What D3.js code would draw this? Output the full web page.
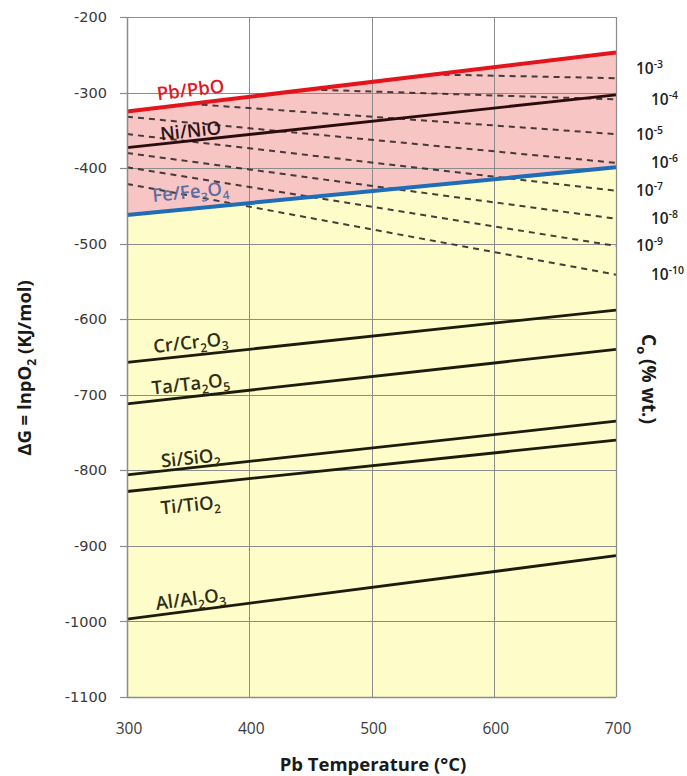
<!DOCTYPE html>
<html>
<head>
<meta charset="utf-8">
<script src="https://cdn.jsdelivr.net/npm/d3@7"></script>
<style>
  html, body { margin: 0; padding: 0; background: #ffffff; }
  svg { display: block; }
</style>
</head>
<body>
<svg id="chart" width="687" height="776"></svg>
<script>
// ---------- data ----------
const xTicks = [300, 400, 500, 600, 700];
const yTicks = [-200, -300, -400, -500, -600, -700, -800, -900, -1000, -1100];

// metal / oxide equilibrium lines (ΔG at 300 °C and 700 °C)
const couples = ["Pb/PbO", "Ni/NiO", "Fe/Fe3O4", "Cr/Cr2O3", "Ta/Ta2O5", "Si/SiO2", "Ti/TiO2", "Al/Al2O3"];
const dG300 = [-325, -373, -462, -657, -712, -806, -828, -997];
const dG700 = [-247, -303, -399, -588, -640, -735, -760, -913];

// iso-concentration lines of dissolved oxygen (C_o, % wt.)
const coExp    = [-3, -4, -5, -6, -7, -8, -9, -10];
const coStartT = [550, 450, 352, 300, 300, 300, 300, 300];
const coStartG = [-276, -296, -315, -332, -355, -380, -399, -421];
const coEndG   = [-281, -309, -355, -393, -430, -467, -503, -541];

// ---------- styles / layout ----------
const coupleColor = ["#e3151c", "#2a0c0c", "#1f6db6", "#1c1c0c", "#1c1c0c", "#1c1c0c", "#1c1c0c", "#1c1c0c"];
const coupleWidth = [4, 2.8, 4, 2.8, 2.8, 2.8, 2.8, 2.8];
const labelColor  = ["#e0191f", "#2a1414", "#5b6ea4", "#2e2e14", "#2e2e14", "#2e2e14", "#2e2e14", "#2e2e14"];
const labelOffset = [-14, -10, -17, -13, -13, -10, 20, -12];
const labelAtT = 352;

const W = 687, H = 776;
const margin = { left: 127, right: 71, top: 17, bottom: 79 };
const x = d3.scaleLinear().domain([300, 700]).range([margin.left, W - margin.right]);
const y = d3.scaleLinear().domain([-200, -1100]).range([margin.top, H - margin.bottom]);

const svg = d3.select("#chart");
const gridColor = "#8c8c8c";

// ---------- fills ----------
const tt = [300, 700];
const lerp = (a, b, t) => a + (b - a) * (t - 300) / 400;
const red = t => lerp(dG300[0], dG700[0], t);
const blue = t => lerp(dG300[2], dG700[2], t);

svg.append("path")
  .datum(tt)
  .attr("fill", "#fefcc9")
  .attr("d", d3.area().x(d => x(d)).y0(() => y(-1100)).y1(d => y(blue(d))));

svg.append("path")
  .datum(tt)
  .attr("fill", "#f8c5c5")
  .attr("d", d3.area().x(d => x(d)).y0(d => y(blue(d))).y1(d => y(red(d))));

// ---------- grid ----------
const grid = svg.append("g").attr("stroke", gridColor).attr("stroke-width", 1).attr("shape-rendering", "crispEdges");
grid.selectAll("line.h").data(yTicks).join("line")
  .attr("x1", x(300)).attr("x2", x(700))
  .attr("y1", d => Math.round(y(d)) + 0.5).attr("y2", d => Math.round(y(d)) + 0.5);
grid.selectAll("line.v").data(xTicks).join("line")
  .attr("y1", y(-200)).attr("y2", y(-1100))
  .attr("x1", d => Math.round(x(d)) + 0.5).attr("x2", d => Math.round(x(d)) + 0.5);

// ---------- dashed iso-concentration lines ----------
svg.append("g").selectAll("line").data(coExp).join("line")
  .attr("x1", (d, i) => x(coStartT[i])).attr("y1", (d, i) => y(coStartG[i]))
  .attr("x2", x(700)).attr("y2", (d, i) => y(coEndG[i]))
  .attr("stroke", "#342a2a").attr("stroke-width", 2)
  .attr("stroke-dasharray", "6,5").attr("opacity", 0.9);

// ---------- equilibrium lines ----------
svg.append("g").selectAll("line").data(couples).join("line")
  .attr("x1", x(300)).attr("y1", (d, i) => y(dG300[i]))
  .attr("x2", x(700)).attr("y2", (d, i) => y(dG700[i]))
  .attr("stroke", (d, i) => coupleColor[i])
  .attr("stroke-width", (d, i) => coupleWidth[i]);

// ---------- helpers for sub/superscripts ----------
function addChemText(sel, str, fs) {
  const parts = str.match(/[0-9]+|[^0-9]+/g);
  let shifted = false;
  parts.forEach(p => {
    if (/^[0-9]+$/.test(p)) {
      sel.append("tspan").attr("dy", fs * 0.25).attr("font-size", fs * 0.66).text(p);
      shifted = true;
    } else {
      const ts = sel.append("tspan").text(p);
      if (shifted) { ts.attr("dy", -fs * 0.25); shifted = false; }
    }
  });
}

// ---------- line labels ----------
const lblFS = 18.5;
couples.forEach((c, i) => {
  const ang = Math.atan2(y(dG700[i]) - y(dG300[i]), x(700) - x(300)) * 180 / Math.PI;
  const cx = x(labelAtT);
  const cy = y(lerp(dG300[i], dG700[i], labelAtT)) + labelOffset[i];
  const t = svg.append("text")
    .attr("transform", `translate(${cx},${cy}) rotate(${ang})`)
    .attr("text-anchor", "middle").attr("dy", "0.35em")
    .attr("font-family", "'Open Sans', sans-serif").attr("font-weight", 600)
    .attr("font-size", lblFS).attr("fill", labelColor[i]);
  addChemText(t, c, lblFS);
});

// ---------- right-side concentration labels ----------
const rFS = 15.5;
coExp.forEach((e, i) => {
  const tx = i % 2 === 0 ? 636 : 651;
  const ty = y(coEndG[i]) + (i === 0 ? -10 : 0);
  const t = svg.append("text")
    .attr("x", tx).attr("y", ty).attr("dy", "0.35em")
    .attr("font-family", "'Open Sans', sans-serif").attr("font-weight", 600)
    .attr("font-size", rFS).attr("fill", "#1e1e1e");
  t.append("tspan").text("10");
  t.append("tspan").attr("dy", -6).attr("font-size", 10.5).text(String(e));
});

// ---------- axes ----------
const axisColor = "#8c8c8c";
svg.append("path")
  .attr("d", `M${x(300)},${Math.round(y(-200)) + 0.5}H${Math.round(x(700)) + 0.5}V${y(-1100)}`)
  .attr("fill", "none").attr("stroke", axisColor).attr("stroke-width", 1.2);
svg.append("line").attr("x1", Math.round(x(300)) + 0.5).attr("x2", Math.round(x(300)) + 0.5)
  .attr("y1", y(-200)).attr("y2", y(-1100)).attr("stroke", axisColor).attr("stroke-width", 1.5);
svg.append("g").selectAll("line").data(yTicks).join("line")
  .attr("x1", x(300) - 7).attr("x2", x(300))
  .attr("y1", d => Math.round(y(d)) + 0.5).attr("y2", d => Math.round(y(d)) + 0.5)
  .attr("stroke", axisColor).attr("stroke-width", 1.2);
svg.append("line").attr("x1", x(300)).attr("x2", x(700))
  .attr("y1", Math.round(y(-1100)) + 0.5).attr("y2", Math.round(y(-1100)) + 0.5)
  .attr("stroke", axisColor).attr("stroke-width", 1.5);

// y tick labels
svg.append("g").selectAll("text").data(yTicks).join("text")
  .attr("x", 107).attr("y", d => y(d)).attr("dy", "0.35em")
  .attr("text-anchor", "end")
  .attr("font-family", "'DejaVu Sans', sans-serif").attr("font-size", 14.5)
  .attr("fill", "#3a3a3a")
  .text(d => d);

// x tick labels
svg.append("g").selectAll("text").data(xTicks).join("text")
  .attr("x", d => x(d) + 2).attr("y", 729).attr("dy", "0.35em")
  .attr("text-anchor", "middle")
  .attr("font-family", "'Open Sans', sans-serif").attr("font-size", 15.5)
  .attr("fill", "#3a3a3a")
  .text(d => d);

// x title
svg.append("text")
  .attr("x", 373).attr("y", 765).attr("dy", "0.35em").attr("text-anchor", "middle")
  .attr("font-family", "'Open Sans', sans-serif").attr("font-weight", 700)
  .attr("font-size", 18.5).attr("fill", "#1a1a1a")
  .text("Pb Temperature (°C)");

// y title
const yt = svg.append("text")
  .attr("transform", "translate(25,368) rotate(-90)")
  .attr("dy", "0.35em").attr("text-anchor", "middle")
  .attr("font-family", "'Open Sans', sans-serif").attr("font-weight", 700)
  .attr("font-size", 18.5).attr("fill", "#1a1a1a");
yt.append("tspan").text("ΔG = lnpO");
yt.append("tspan").attr("dy", 5).attr("font-size", 12).text("2");
yt.append("tspan").attr("dy", -5).text(" (KJ/mol)");

// right title
const rt = svg.append("text")
  .attr("transform", "translate(649,379) rotate(90)")
  .attr("dy", "0.35em").attr("text-anchor", "middle")
  .attr("font-family", "'Open Sans', sans-serif").attr("font-weight", 700)
  .attr("font-size", 19).attr("fill", "#1a1a1a");
rt.append("tspan").text("C");
rt.append("tspan").attr("dy", 5).attr("font-size", 13).text("o");
rt.append("tspan").attr("dy", -5).text(" (% wt.)");
</script>
</body>
</html>
